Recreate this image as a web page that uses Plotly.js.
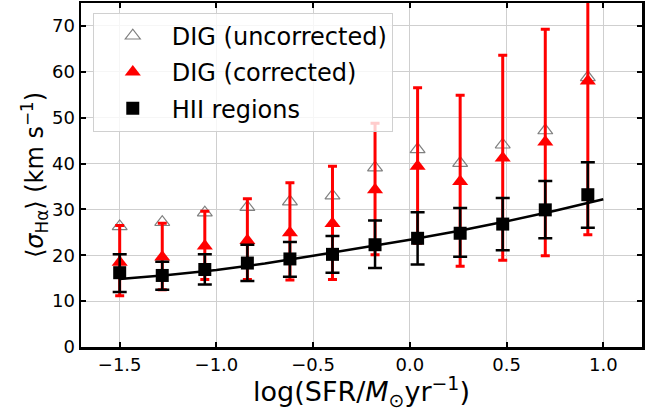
<!DOCTYPE html>
<html>
<head>
<meta charset="utf-8">
<script src="https://cdn.plot.ly/plotly-3.0.1.min.js"></script>
<style>html,body{margin:0;padding:0;background:#fff;}#chart{width:655px;height:411px;}</style>
</head>
<body>
<div id="chart"></div>
<script>
// log(SFR) bin centres
const logSFR = [-1.5, -1.28, -1.06, -0.84, -0.62, -0.40, -0.18, 0.04, 0.26, 0.48, 0.70, 0.92];

// DIG (uncorrected)
const digUncorr = [26.3, 27.2, 29.3, 30.5, 31.7, 33.0, 39.1, 43.1, 40.1, 44.1, 47.2, 58.8];

// DIG (corrected) with asymmetric error bar ends
const digCorr      = [18.5, 19.6, 22.0, 23.2, 24.9, 26.9, 34.3, 39.4, 36.1, 41.2, 44.7, 58.0];
const digCorrUpper = [26.5, 27.0, 29.6, 32.3, 35.8, 39.4, 48.8, 56.5, 54.9, 63.6, 69.3, 92.0];
const digCorrLower = [11.2, 12.5, 14.7, 14.7, 14.6, 14.7, 20.1, 22.6, 17.6, 18.9, 19.9, 24.5];

// HII regions with asymmetric error bar ends
const hii      = [16.2, 15.6, 16.9, 18.3, 19.2, 20.2, 22.3, 23.7, 24.8, 26.8, 29.9, 33.2];
const hiiUpper = [20.2, 18.6, 20.2, 22.3, 22.9, 24.2, 27.6, 29.4, 30.3, 32.5, 36.2, 40.3];
const hiiLower = [12.0, 12.5, 13.6, 14.4, 15.3, 16.2, 17.2, 18.0, 19.7, 21.1, 23.7, 26.0];

// Fit line through HII regions
const fitX = [-1.5, -1.25, -1.0, -0.75, -0.5, -0.25, 0.0, 0.25, 0.5, 0.75, 1.0];
const fitY = [14.8, 15.7, 16.8, 18.2, 19.9, 21.6, 23.4, 25.3, 27.4, 29.7, 32.2];

const xTicks = [-1.5, -1.0, -0.5, 0.0, 0.5, 1.0];
const xTickText = ['\u22121.5', '\u22121.0', '\u22120.5', '0.0', '0.5', '1.0'];
const yTicks = [0, 10, 20, 30, 40, 50, 60, 70];

const diff = (a, b) => a.map((v, i) => v - b[i]);

const traces = [
  {
    x: logSFR, y: digUncorr, type: 'scatter', mode: 'markers',
    name: 'DIG (uncorrected)', legendgroup: 'a',
    marker: {symbol: 'triangle-up-open', size: 13, color: '#808080', line: {width: 1.2, color: '#808080'}}
  },
  {
    x: logSFR, y: digCorr, type: 'scatter', mode: 'markers',
    name: 'DIG (corrected)', legendgroup: 'b',
    marker: {symbol: 'triangle-up', size: 14, color: '#ff0000'},
    error_y: {type: 'data', symmetric: false, array: diff(digCorrUpper, digCorr),
              arrayminus: diff(digCorr, digCorrLower), color: '#ff0000', thickness: 3, width: 4.5}
  },
  {
    x: fitX, y: fitY, type: 'scatter', mode: 'lines', showlegend: false,
    line: {color: '#000000', width: 2.5}
  },
  {
    x: logSFR, y: hii, type: 'scatter', mode: 'markers',
    name: 'HII regions', legendgroup: 'c',
    marker: {symbol: 'square', size: 13, color: '#000000'},
    error_y: {type: 'data', symmetric: false, array: diff(hiiUpper, hii),
              arrayminus: diff(hii, hiiLower), color: '#000000', thickness: 2.5, width: 7}
  }
];

const font = 'DejaVu Sans, sans-serif';
const layout = {
  width: 655, height: 411,
  margin: {l: 81, r: 13, t: 3, b: 64},
  paper_bgcolor: '#ffffff', plot_bgcolor: '#ffffff',
  font: {family: font, color: '#000000'},
  showlegend: true,
  legend: {
    x: 0.021, y: 0.972, xanchor: 'left', yanchor: 'top',
    bgcolor: 'rgba(255,255,255,0.8)', bordercolor: '#d0d0d0', borderwidth: 1,
    font: {family: font, size: 24, color: '#000000'},
    traceorder: 'grouped', tracegroupgap: 2, itemwidth: 68
  },
  xaxis: {
    range: [-1.7, 1.2],
    tickvals: xTicks, ticktext: xTickText,
    ticks: 'inside', ticklen: 5, tickwidth: 2, tickcolor: '#000',
    showline: true, linewidth: 2.5, linecolor: '#000', mirror: 'allticks',
    showgrid: true, gridcolor: '#cfcfcf', gridwidth: 1, zeroline: false,
    tickfont: {family: font, size: 18},
    title: {text: 'log(SFR/<i>M</i><sub>\u2299</sub>yr<sup>\u22121</sup>)', font: {family: font, size: 27}, standoff: 5}
  },
  yaxis: {
    range: [0, 75],
    tickvals: yTicks,
    ticks: 'inside', ticklen: 5, tickwidth: 2, tickcolor: '#000',
    showline: true, linewidth: 2.5, linecolor: '#000', mirror: 'allticks',
    showgrid: true, gridcolor: '#cfcfcf', gridwidth: 1, zeroline: false,
    tickfont: {family: font, size: 18},
    title: {text: '\u27e8<i>\u03c3</i><sub>H\u03b1</sub>\u27e9 (km s<sup>\u22121</sup>)', font: {family: font, size: 24}, standoff: 1}
  }
};

Plotly.newPlot('chart', traces, layout, {displayModeBar: false, staticPlot: true});
</script>
</body>
</html>
